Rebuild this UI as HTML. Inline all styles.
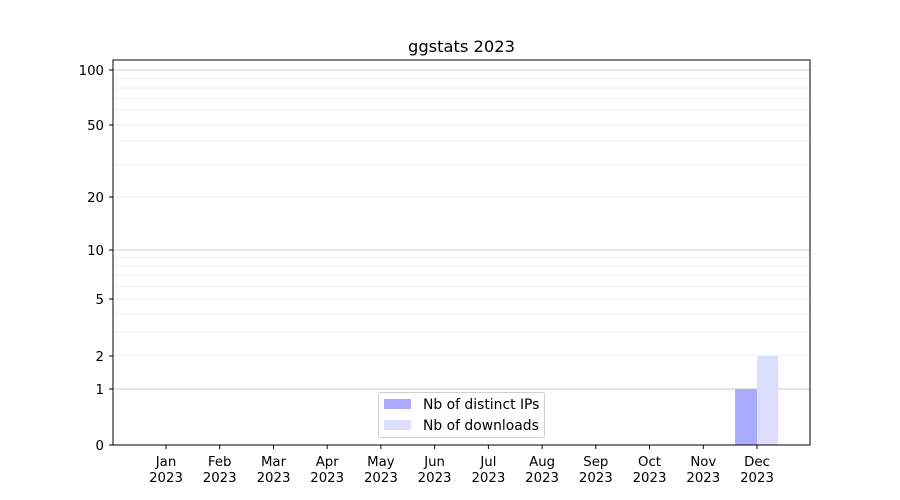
<!DOCTYPE html>
<html><head><meta charset="utf-8"><style>body{margin:0;background:#fff}svg{display:block}</style></head>
<body>
<svg width="900" height="500" xmlns="http://www.w3.org/2000/svg" font-family="DejaVu Sans, Liberation Sans, sans-serif" font-size="13.3">
<rect width="900" height="500" fill="#fff"/>
<g stroke="#ebebeb" stroke-width="0.8">
<line x1="113" x2="810" y1="355.5" y2="355.5"/>
<line x1="113" x2="810" y1="332.1" y2="332.1"/>
<line x1="113" x2="810" y1="313.9" y2="313.9"/>
<line x1="113" x2="810" y1="299.1" y2="299.1"/>
<line x1="113" x2="810" y1="286.5" y2="286.5"/>
<line x1="113" x2="810" y1="275.7" y2="275.7"/>
<line x1="113" x2="810" y1="266.1" y2="266.1"/>
<line x1="113" x2="810" y1="257.6" y2="257.6"/>
<line x1="113" x2="810" y1="197.1" y2="197.1"/>
<line x1="113" x2="810" y1="164.4" y2="164.4"/>
<line x1="113" x2="810" y1="141.1" y2="141.1"/>
<line x1="113" x2="810" y1="124.8" y2="124.8"/>
<line x1="113" x2="810" y1="109.8" y2="109.8"/>
<line x1="113" x2="810" y1="98.4" y2="98.4"/>
<line x1="113" x2="810" y1="88.1" y2="88.1"/>
<line x1="113" x2="810" y1="78.7" y2="78.7"/>
</g>
<g stroke="#cccccc" stroke-width="1">
<line x1="113" x2="810" y1="389" y2="389"/>
<line x1="113" x2="810" y1="250" y2="250"/>
<line x1="113" x2="810" y1="70" y2="70"/>
</g>
<rect x="735" y="389" width="22" height="56" fill="#aaaaff"/>
<rect x="757" y="356" width="21" height="89" fill="#ddddff"/>
<rect x="113" y="60" width="697" height="385" fill="none" stroke="#000" stroke-width="1"/>
<g stroke="#000">
<line x1="109" x2="113" y1="445" y2="445"/><line x1="109" x2="113" y1="389" y2="389"/><line x1="109" x2="113" y1="356" y2="356"/><line x1="109" x2="113" y1="299" y2="299"/><line x1="109" x2="113" y1="250" y2="250"/><line x1="109" x2="113" y1="197" y2="197"/><line x1="109" x2="113" y1="125" y2="125"/><line x1="109" x2="113" y1="70" y2="70"/>
</g>
<g text-anchor="end" fill="#000">
<text x="104" y="450">0</text><text x="104" y="394">1</text><text x="104" y="361">2</text><text x="104" y="304">5</text><text x="104" y="255">10</text><text x="104" y="202">20</text><text x="104" y="130">50</text><text x="104" y="75">100</text>
</g>
<g stroke="#000">
<line x1="166" x2="166" y1="445" y2="449"/><line x1="219.7" x2="219.7" y1="445" y2="449"/><line x1="273.5" x2="273.5" y1="445" y2="449"/><line x1="327.2" x2="327.2" y1="445" y2="449"/><line x1="380.9" x2="380.9" y1="445" y2="449"/><line x1="434.6" x2="434.6" y1="445" y2="449"/><line x1="488.4" x2="488.4" y1="445" y2="449"/><line x1="542.1" x2="542.1" y1="445" y2="449"/><line x1="595.8" x2="595.8" y1="445" y2="449"/><line x1="649.5" x2="649.5" y1="445" y2="449"/><line x1="703.3" x2="703.3" y1="445" y2="449"/><line x1="757" x2="757" y1="445" y2="449"/>
</g>
<g text-anchor="middle" fill="#000">
<text x="166" y="466">Jan</text><text x="219.7" y="466">Feb</text><text x="273.5" y="466">Mar</text><text x="327.2" y="466">Apr</text><text x="380.9" y="466">May</text><text x="434.6" y="466">Jun</text><text x="488.4" y="466">Jul</text><text x="542.1" y="466">Aug</text><text x="595.8" y="466">Sep</text><text x="649.5" y="466">Oct</text><text x="703.3" y="466">Nov</text><text x="757" y="466">Dec</text>
<text x="166" y="482">2023</text><text x="219.7" y="482">2023</text><text x="273.5" y="482">2023</text><text x="327.2" y="482">2023</text><text x="380.9" y="482">2023</text><text x="434.6" y="482">2023</text><text x="488.4" y="482">2023</text><text x="542.1" y="482">2023</text><text x="595.8" y="482">2023</text><text x="649.5" y="482">2023</text><text x="703.3" y="482">2023</text><text x="757" y="482">2023</text>
</g>
<text x="461.5" y="52" text-anchor="middle" font-size="16.3">ggstats 2023</text>
<rect x="378.5" y="392.5" width="166" height="45" rx="2" fill="#fff" fill-opacity="0.8" stroke="#d0d0d0"/>
<rect x="384" y="399" width="27" height="10" fill="#aaaaff"/>
<rect x="384" y="420" width="27" height="10" fill="#ddddff"/>
<text x="423" y="409" font-size="13.9">Nb of distinct IPs</text>
<text x="423" y="430" font-size="13.9">Nb of downloads</text>
</svg>
</body></html>
